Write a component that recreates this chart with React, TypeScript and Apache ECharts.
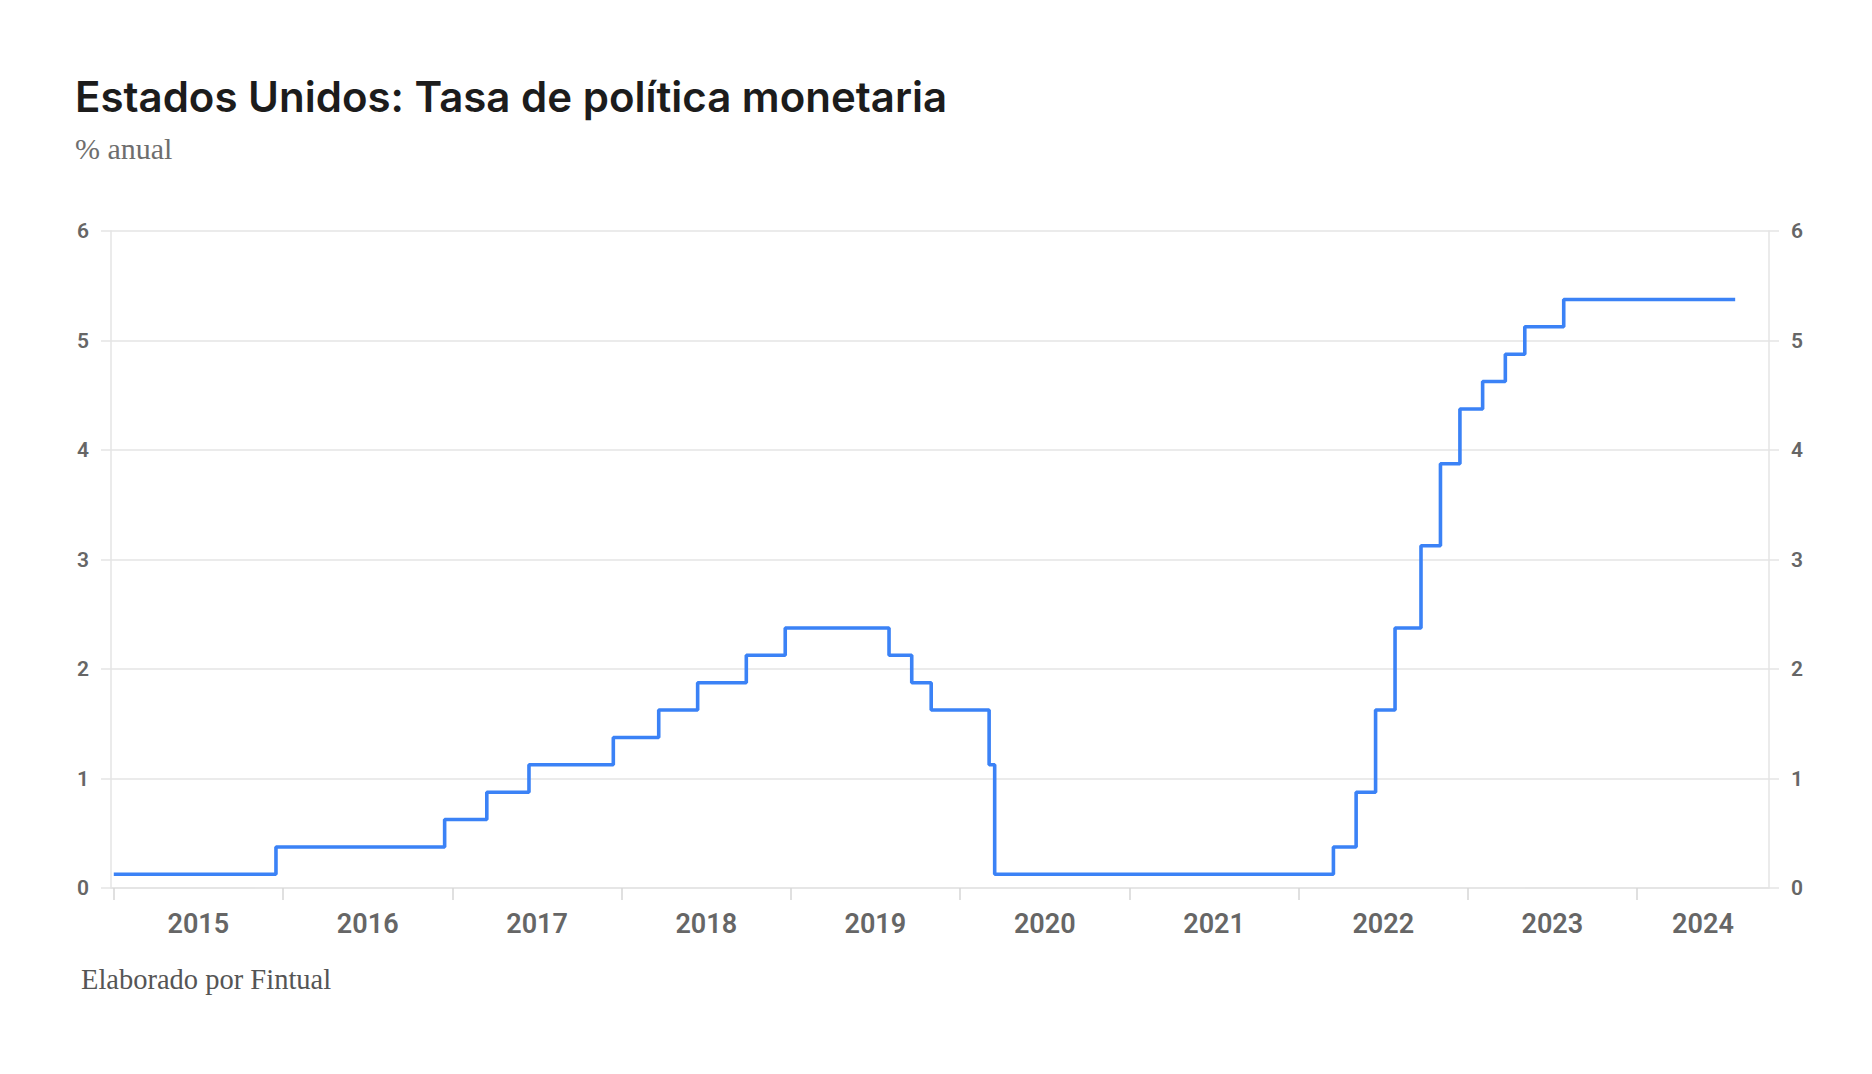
import React, { useEffect, useRef } from "react";
import * as echarts from "echarts";

const changeDates: string[] = [
  "2015-01-01", "2015-12-17", "2016-12-15", "2017-03-16", "2017-06-15",
  "2017-12-14", "2018-03-22", "2018-06-14", "2018-09-27", "2018-12-20",
  "2019-08-01", "2019-09-19", "2019-10-31", "2020-03-04", "2020-03-16",
  "2022-03-17", "2022-05-05", "2022-06-16", "2022-07-28", "2022-09-22",
  "2022-11-03", "2022-12-15", "2023-02-02", "2023-03-23", "2023-05-04",
  "2023-07-27", "2024-07-31",
];
const rates: number[] = [
  0.125, 0.375, 0.625, 0.875, 1.125,
  1.375, 1.625, 1.875, 2.125, 2.375,
  2.125, 1.875, 1.625, 1.125, 0.125,
  0.375, 0.875, 1.625, 2.375, 3.125,
  3.875, 4.375, 4.625, 4.875, 5.125,
  5.375, 5.375,
];
const years: number[] = [2015, 2016, 2017, 2018, 2019, 2020, 2021, 2022, 2023, 2024];
const yTicks: number[] = [0, 1, 2, 3, 4, 5, 6];

const axisMinDate = "2014-12-26";
const axisMaxDate = "2024-10-12";

const TITLE = "Estados Unidos: Tasa de política monetaria";
const SUBTITLE = "% anual";
const FOOTER = "Elaborado por Fintual";

export default function App() {
  const ref = useRef<HTMLDivElement>(null);

  useEffect(() => {
    if (!ref.current) return;
    const chart = echarts.init(ref.current, undefined, { renderer: "svg" });

    const ts = (s: string) => new Date(s + "T00:00:00Z").getTime();
    const minT = ts(axisMinDate);
    const maxT = ts(axisMaxDate);
    const tickValues = years.map((y) => ts(`${y}-01-01`));
    const labelValues = years.map((y, i) => {
      const start = tickValues[i];
      const end = i < years.length - 1 ? tickValues[i + 1] : maxT;
      return Math.round((start + end) / 2);
    });
    const seriesData = changeDates.map((d, i) => [ts(d), rates[i]]);

    const gridColor = "#e4e4e4";
    const labelColor = "#666666";
    const axisFont = "Roboto";

    const yAxisCommon = {
      type: "value" as const,
      min: yTicks[0],
      max: yTicks[yTicks.length - 1],
      interval: 1,
      axisLine: { show: true, lineStyle: { color: gridColor, width: 1.5 } },
      axisTick: { show: true, length: 10, lineStyle: { color: gridColor, width: 1.5 } },
      axisLabel: {
        color: labelColor,
        fontFamily: axisFont,
        fontWeight: 600 as any,
        fontSize: 21,
        margin: 22,
      },
    };

    chart.setOption({
      animation: false,
      backgroundColor: "#ffffff",
      grid: { left: 111, right: 103, top: 231, bottom: 186, containLabel: false },
      xAxis: {
        type: "value",
        min: minT,
        max: maxT,
        axisLine: { show: true, onZero: false, lineStyle: { color: gridColor, width: 1.5 } },
        axisTick: {
          show: true,
          length: 12,
          customValues: tickValues,
          lineStyle: { color: "#d6d6d6", width: 1.5 },
        },
        axisLabel: {
          customValues: labelValues,
          formatter: (v: number) => String(new Date(v).getUTCFullYear()),
          color: labelColor,
          fontFamily: axisFont,
          fontWeight: 600,
          fontSize: 27,
          margin: 22,
          hideOverlap: false,
          showMinLabel: true,
          showMaxLabel: true,
        },
        splitLine: { show: false },
      },
      yAxis: [
        {
          ...yAxisCommon,
          position: "left",
          splitLine: { show: true, lineStyle: { color: gridColor, width: 1.5 } },
        },
        {
          ...yAxisCommon,
          position: "right",
          splitLine: { show: false },
        },
      ],
      series: [
        {
          type: "line",
          step: "end",
          yAxisIndex: 0,
          data: seriesData,
          showSymbol: false,
          symbol: "none",
          lineStyle: { color: "#3b82f6", width: 3.6 },
          z: 5,
        },
      ],
      graphic: [
        {
          type: "text",
          left: 75,
          top: 75,
          style: {
            text: TITLE,
            fill: "#1c1c1c",
            font: "600 42px Inter",
          },
        },
        {
          type: "text",
          left: 75,
          top: 133,
          style: {
            text: SUBTITLE,
            fill: "#6e6e6e",
            font: "30px 'Liberation Serif'",
          },
        },
        {
          type: "text",
          left: 81,
          top: 965,
          style: {
            text: FOOTER,
            fill: "#555555",
            font: "28.5px 'Liberation Serif'",
          },
        },
      ],
    });

    return () => {
      chart.dispose();
    };
  }, []);

  return (
    <div
      ref={ref}
      style={{ position: "fixed", left: 0, top: 0, width: 1872, height: 1074, background: "#fff" }}
    />
  );
}
